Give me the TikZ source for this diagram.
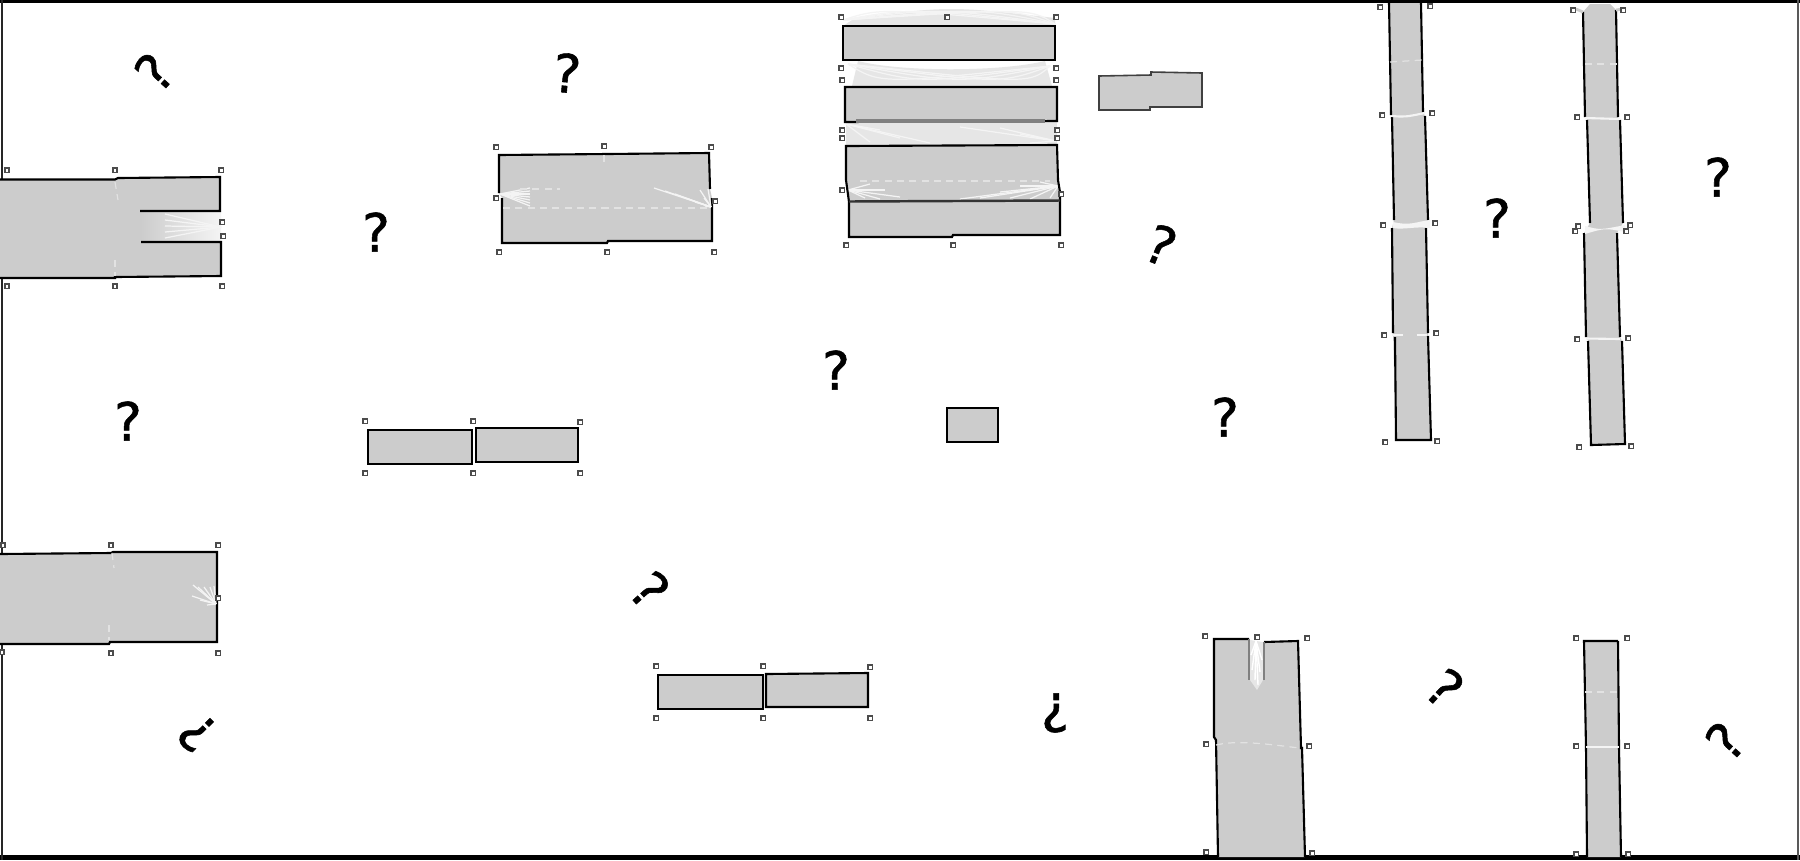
\documentclass[tikz,border=0pt]{standalone}
\usepackage{fontspec}
\setmainfont{DejaVu Sans}
\newfontfamily\qfont[FakeBold=1.0]{DejaVu Sans}
\definecolor{blk}{HTML}{CCCCCC}
\definecolor{pale}{HTML}{E6E6E6}
\definecolor{wisp}{HTML}{F4F4F4}
\definecolor{faint}{HTML}{E2E2E2}
\tikzset{
  solid fill/.style={fill=blk,draw=none},
  edge/.style={draw=black,line width=0.6pt,line join=miter},
  thinedge/.style={draw=black!75,line width=0.45pt},
  streak/.style={fill=pale,draw=none},
  wispline/.style={draw=wisp,line width=0.35pt},
  faintline/.style={draw=faint,line width=0.35pt,dash pattern=on 2pt off 1.5pt},
  sq/.style={draw=black!70,fill=white,line width=0.4pt,inner sep=0pt,rectangle,outer sep=0pt,minimum width=4.4*0.2845pt,minimum height=4.4*0.2845pt},
  qm/.style={font=\qfont\fontsize{15}{18}\selectfont,inner sep=0pt,text=black},
}
\begin{document}
\begin{tikzpicture}[x=0.01cm,y=-0.01cm]
\useasboundingbox (0,0) rectangle (1800,860);
\fill[white] (0,0) rectangle (1800,860);
% frame
\draw[black,line width=0.85pt] (0,1.5) -- (1800,1.5);
\draw[black,line width=1.2pt] (0,857.5) -- (1800,857.5);
\draw[black!85,line width=0.6pt] (2,0) -- (2,860);
\draw[black!65,line width=0.6pt] (1798,0) -- (1798,860);

% A: upper-left block
\fill[solid fill] (0,179) -- (115,179) -- (118,178) -- (220,177) -- (220,211) -- (140,211) -- (140,242) -- (221,242) -- (221,276) -- (115,277) -- (115,278) -- (0,278) -- cycle;
\shade[left color=blk,right color=wisp] (140,211) rectangle (221,242);
\draw[edge] (0,179.5) -- (115,179.5) -- (118,178) -- (220,177) -- (220,211) -- (140,211);
\draw[edge] (141,242) -- (221,242) -- (221,276) -- (115,277) -- (115,278) -- (0,278);
\foreach \t in {214,220,226,232,238} \draw[wispline] (165,\t) -- (221,227);
\draw[faintline] (115,182) -- (118,200);
\draw[faintline] (115,260) -- (115,276);

% B: block with side recess
\fill[solid fill] (499,155) -- (607,154) -- (709,153) -- (710,189) -- (712,198) -- (712,241) -- (608,241) -- (607,243) -- (502,243) -- (502,198) -- (499,193) -- cycle;
\draw[edge] (499,193) -- (499,155) -- (607,154) -- (709,153) -- (710,189);
\draw[edge] (712,198) -- (712,241) -- (608,241) -- (607,243) -- (502,243) -- (502,198);
\foreach \p in {188,191,194,197,200,203,206} \draw[wispline] (500,194) -- (530,\p);
\foreach \p/\q in {654/188,665/191,675/194,685/198,695/202,705/206,700/190,708/189,704/198} \draw[wispline] (711,207) -- (\p,\q);
\draw[faintline] (503,208) -- (708,208);
\draw[faintline] (520,189) -- (560,189);
\draw[faintline] (604,155) -- (604,165);

% Stack D
\fill[streak] (855,18) .. controls (950,6) .. (1055,18) -- (1055,26) -- (843,26) -- cycle;
\fill[streak] (858,61) .. controls (900,72) and (1000,72) .. (1045,61) -- (1052,86) -- (852,86) -- cycle;
\fill[streak] (846,122) -- (1057,122) -- (1057,146) -- (846,146) -- cycle;
\foreach \b in {880,910,940,980,1010,1030} \draw[wispline] (843,20) .. controls (\b,8) .. (1055,24);
\foreach \b/\c in {880/130,900/138,930/143,870/142} \draw[wispline] (846,124) -- (\b,\c);
\foreach \b/\c in {1000/128,1020/134,960/127,1030/143} \draw[wispline] (1056,141) -- (\b,\c);
\foreach \b in {880,920,960,1000,1030} \draw[wispline] (848,64) .. controls (\b,84) .. (1050,66);
\fill[solid fill] (843,26) rectangle (1055,60);
\draw[edge] (843,60) -- (843,26) -- (1055,26) -- (1055,60) -- cycle;
\fill[solid fill] (845,87) -- (1057,87) -- (1057,121) -- (845,122) -- cycle;
\draw[edge] (845,87) -- (1057,87) -- (1057,121) -- (845,122) -- cycle;
\draw[black!50,line width=0.9pt] (856,121) -- (1045,121);
\fill[solid fill] (846,146) -- (1057,145) -- (1058,180) -- (1060,192) -- (1060,235) -- (953,235) -- (952,237) -- (849,237) -- (849,202) -- (846,180) -- cycle;
\foreach \b/\c in {870/184,885/190,900/197,880/199,865/198} \draw[wispline] (848,190) -- (\b,\c);
\foreach \b/\c in {1040/182,1020/186,1000/192,980/198,1010/198,1030/199,960/199,1050/198} \draw[wispline] (1058,186) -- (\b,\c);
\draw[faintline] (860,181) -- (1050,181);
\draw[edge] (846,146) -- (1057,145) -- (1058,180) -- (1060,192) -- (1060,235) -- (953,235) -- (952,237) -- (849,237) -- (849,202) -- (846,180) -- cycle;
\draw[black!80,line width=0.7pt] (849,201.5) -- (1060,200.5);

% E
\fill[solid fill] (1099,76) -- (1151,75) -- (1151,72) -- (1202,73) -- (1202,107) -- (1150,107) -- (1150,110) -- (1099,110) -- cycle;
\draw[thinedge] (1099,76) -- (1151,75) -- (1151,72) -- (1202,73) -- (1202,107) -- (1150,107) -- (1150,110) -- (1099,110) -- cycle;

% F
\fill[solid fill] (368,430) rectangle (472,464);
\draw[edge] (368,430) rectangle (472,464);
\fill[solid fill] (476,428) -- (578,428) -- (578,462) -- (476,462) -- cycle;
\draw[edge] (476,428) -- (578,428) -- (578,462) -- (476,462) -- cycle;

% G
\fill[solid fill] (0,554) -- (111,553) -- (113,552) -- (217,552) -- (217,642) -- (110,642) -- (109,644) -- (0,644) -- cycle;
\draw[edge] (0,554) -- (111,553) -- (113,552) -- (217,552) -- (217,642) -- (110,642) -- (109,644) -- (0,644);
\foreach \p/\q in {193/585,198/587,204/587,210/587,214/586,200/600,192/596,207/605} \draw[wispline] (216,604) -- (\p,\q);
\draw[faintline] (112,553) -- (114,568);
\draw[faintline] (109,625) -- (109,640);

% H
\fill[solid fill] (658,675) rectangle (763,709);
\draw[edge] (658,675) rectangle (763,709);
\fill[solid fill] (766,674) -- (868,673) -- (868,707) -- (766,707) -- cycle;
\draw[edge] (766,674) -- (868,673) -- (868,707) -- (766,707) -- cycle;

% I
\fill[solid fill] (947,408) rectangle (998,442);
\draw[edge] (947,408) rectangle (998,442);

% J
\fill[solid fill] (1214,639) -- (1249,639) -- (1249,680) -- (1264,680) -- (1264,642) -- (1298,641) -- (1301,748) -- (1302,748) -- (1305,857) -- (1218,857) -- (1216,740) -- (1214,737) -- cycle;
\fill[pale] (1250,640) -- (1263,642) -- (1263,680) -- (1257,690) -- (1250,680) -- cycle;
\foreach \p/\q in {1252/670,1255/680,1258/685,1260/672,1262/660,1251/655} \draw[draw=white,line width=0.4pt] (1256,641) -- (\p,\q);
\draw[edge] (1249,639) -- (1214,639) -- (1214,737) -- (1216,740) -- (1218,857);
\draw[edge] (1264,642) -- (1298,641) -- (1301,748) -- (1302,748) -- (1305,857);
\draw[black!50,line width=0.45pt] (1249,639) -- (1249,680);
\draw[black!50,line width=0.45pt] (1264,642) -- (1264,680);
\draw[faintline] (1216,745) .. controls (1240,739) and (1280,746) .. (1300,748);

% K
\fill[solid fill] (1584,641) -- (1618,641) -- (1619,748) -- (1621,857) -- (1587,857) -- (1586,748) -- cycle;
\draw[edge] (1618,641) -- (1584,641) -- (1586,748) -- (1587,857);
\draw[edge] (1618,641) -- (1619,748) -- (1621,857);
\draw[wisp,line width=0.6pt] (1586,747) -- (1619,747);
\draw[faintline] (1585,692) -- (1617,692);

% L: left column
\fill[solid fill] (1389,3) -- (1421,3) -- (1423,112) -- (1425,116) -- (1428,220) -- (1426,228) -- (1428,333) -- (1431,440) -- (1396,440) -- (1393,333) -- (1392,228) -- (1394,220) -- (1392,117) -- cycle;
\draw[edge] (1389,3) -- (1391,115);
\draw[edge] (1421,3) -- (1423,112);
\draw[edge] (1392,117) -- (1394,220);
\draw[edge] (1425,116) -- (1428,220);
\draw[edge] (1392,228) -- (1393,333);
\draw[edge] (1426,228) -- (1428,333);
\draw[edge] (1395,337) -- (1396,440) -- (1431,440) -- (1428,336);
\fill[wisp] (1393,222) .. controls (1410,226) and (1415,222) .. (1430,220) -- (1430,228) .. controls (1415,226) and (1405,230) .. (1393,228) -- cycle;
\draw[wisp,line width=0.6pt] (1392,116) .. controls (1405,117) .. (1425,113);
\draw[wisp,line width=0.5pt,dash pattern=on 3pt off 4pt] (1392,335) -- (1428,335);
\draw[faintline] (1390,62) -- (1422,60);

% L: right column
\fill[solid fill] (1583,12) -- (1590,4) -- (1610,4) -- (1616,10) -- (1618,117) -- (1620,120) -- (1623,223) -- (1617,233) -- (1620,337) -- (1622,341) -- (1625,444) -- (1591,445) -- (1588,341) -- (1586,337) -- (1584,233) -- (1590,223) -- (1587,120) -- (1585,117) -- cycle;
\draw[edge] (1583,12) -- (1585,117);
\draw[edge] (1616,10) -- (1618,117);
\draw[edge] (1587,120) -- (1590,223);
\draw[edge] (1620,120) -- (1623,223);
\draw[edge] (1584,233) -- (1586,337);
\draw[edge] (1617,233) -- (1620,337);
\draw[edge] (1588,341) -- (1591,445) -- (1625,444) -- (1622,341);
\fill[wisp] (1585,226) .. controls (1600,230) .. (1625,225) -- (1625,232) .. controls (1605,228) .. (1585,234) -- cycle;
\draw[wisp,line width=0.6pt] (1585,118) -- (1620,119);
\draw[wisp,line width=0.6pt] (1586,338.5) -- (1620,339);
\draw[blk,line width=0.8pt] (1576,9) -- (1583,12);
\draw[blk,line width=0.8pt] (1623,9) -- (1616,10);
\draw[faintline] (1585,64) -- (1617,64);

% small squares
\foreach \x/\y [count=\i] in {
 7/170,115/170,221/170,222/222,223/236,7/286,115/286,222/286,
 496/147,604/146,711/147,496/198,715/201,499/252,607/252,714/252,
 841/17,947/17,1056/17,841/68,1056/68,842/80,1056/80,842/130,1057/130,842/138,1057/138,842/190,1061/194,846/245,953/245,1061/245,
 365/421,473/421,580/422,365/473,473/473,580/473,
 3/545,111/545,218/545,218/598,2/652,111/653,218/653,
 656/666,763/666,870/667,656/718,763/718,870/718,
 1205/636,1257/637,1307/638,1206/744,1309/746,1206/852,1312/853,
 1576/638,1627/638,1576/746,1627/746,1576/854,1628/854,
 1380/7,1430/6,1382/115,1432/113,1383/225,1435/223,1384/335,1436/333,1385/442,1437/441,
 1573/10,1623/10,1577/117,1627/117,1578/226,1575/231,1630/225,1626/231,1577/339,1628/338,1579/447,1631/446}
 \node[sq] (s\i) at (\x,\y) {};

% question marks
\node[qm,rotate=48] (q1) at (154,72) {?};
\node[qm,rotate=-5] (q2) at (567,73) {?};
\node[qm] (q3) at (376,232) {?};
\node[qm,rotate=-22] (q4) at (1161,245) {?};
\node[qm] (q5) at (1497,218) {?};
\node[qm] (q6) at (1718,177) {?};
\node[qm] (q7) at (128,421) {?};
\node[qm] (q8) at (836,370) {?};
\node[qm] (q9) at (1225,417) {?};
\node[qm,rotate=-48] (q10) at (650,590) {?};
\node[qm,rotate=135] (q11) at (197,733) {?};
\node[qm,rotate=180] (q12) at (1055,713) {?};
\node[qm,rotate=-42] (q13) at (1445,688) {?};
\node[qm,rotate=48] (q14) at (1725,741) {?};
\end{tikzpicture}
\end{document}
